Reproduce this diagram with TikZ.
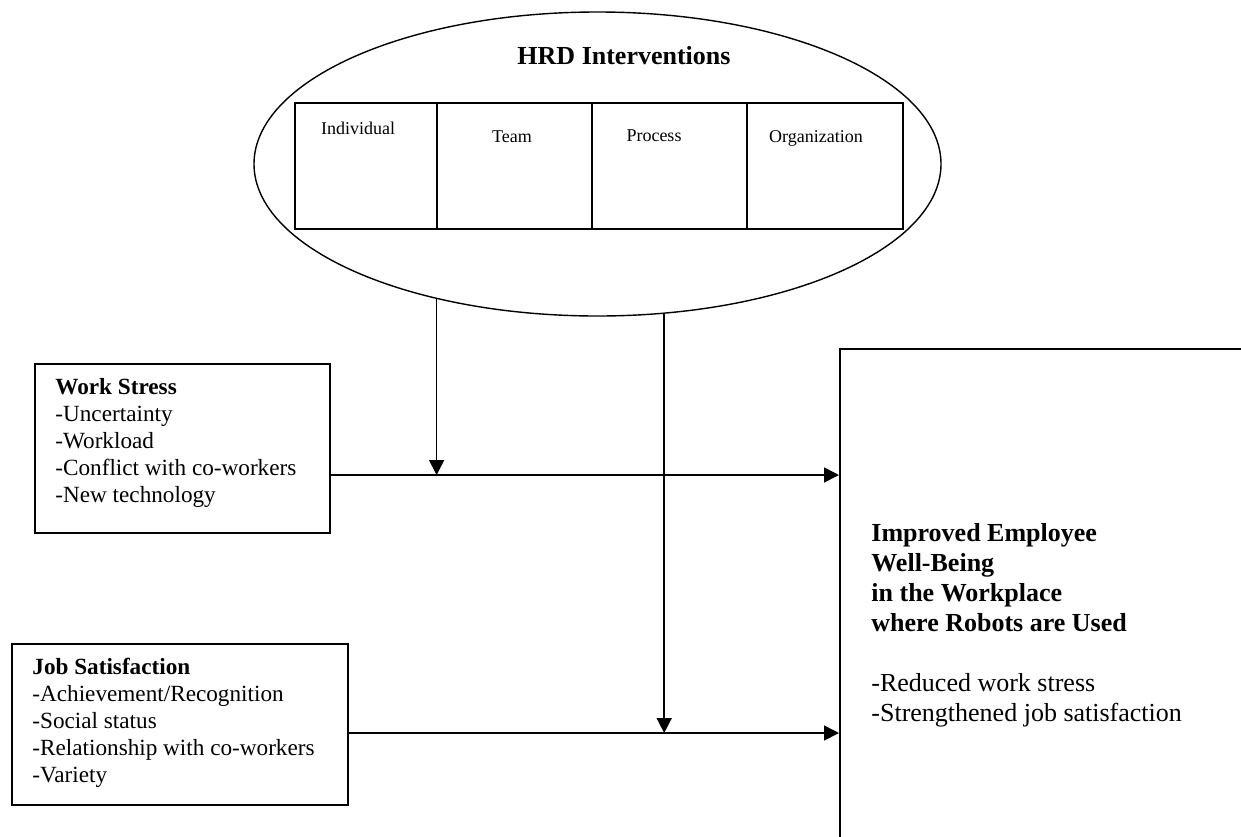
\documentclass[tikz,border=0pt]{standalone}
\usepackage{fontspec}
\setmainfont{Liberation Serif}
\usetikzlibrary{shapes.geometric,arrows.meta}
\begin{document}
\begin{tikzpicture}[x=0.5pt,y=-0.5pt,
  box/.style={draw, line width=0.8pt, rectangle, inner sep=0pt, anchor=north west},
  cell/.style={draw, line width=0.8pt, rectangle, inner sep=0pt, anchor=north west, minimum height=63pt},
  lbl/.style={font=\fontsize{9}{11}\selectfont, anchor=base, inner sep=0pt},
  txt/.style={anchor=base west, inner sep=0pt, align=left},
  arr/.style={line width=0.8pt, -{Triangle[length=7.5pt,width=7.5pt]}}]
\useasboundingbox (0,0) rectangle (1241,836);
\clip (0,0) rectangle (1241,836);
% HRD ellipse
\node[ellipse, draw, line width=0.7pt, minimum width=343.5pt, minimum height=152pt, inner sep=0pt] (hrd) at (597.5,164) {};
\node[anchor=base, inner sep=0pt, font=\fontsize{13}{15}\selectfont\bfseries] (title) at (624,64) {HRD Interventions};
% table cells
\node[cell, minimum width=71pt] (c1) at (294,102) {};
\node[cell, minimum width=77.5pt] (c2) at (436,102) {};
\node[cell, minimum width=77.5pt] (c3) at (591,102) {};
\node[cell, minimum width=78pt] (c4) at (746,102) {};
\node[lbl] (l1) at (358,134) {Individual};
\node[lbl] (l2) at (512,142) {Team};
\node[lbl] (l3) at (654,141) {Process};
\node[lbl] (l4) at (816,142) {Organization};
% work stress
\node[box, minimum width=147.5pt, minimum height=84.5pt] (ws) at (34,363) {};
\node[txt, font=\fontsize{11.6}{13.5}\selectfont] (wst) at (55,394) {\begin{tabular}[t]{@{}l@{}}\textbf{Work Stress}\\-Uncertainty\\-Workload\\-Conflict with co-workers\\-New technology\end{tabular}};
% job satisfaction
\node[box, minimum width=168pt, minimum height=80.5pt] (js) at (11,643) {};
\node[txt, font=\fontsize{11.6}{13.5}\selectfont] (jst) at (32,674) {\begin{tabular}[t]{@{}l@{}}\textbf{Job Satisfaction}\\-Achievement/Recognition\\-Social status\\-Relationship with co-workers\\-Variety\end{tabular}};
% well-being
\node[box, minimum width=230.5pt, minimum height=276pt] (wb) at (839,348) {};
\node[txt, font=\fontsize{13}{15}\selectfont] (wbt) at (871,541) {\begin{tabular}[t]{@{}l@{}}\textbf{Improved Employee}\\\textbf{Well-Being}\\\textbf{in the Workplace}\\\textbf{where Robots are Used}\\[15pt]-Reduced work stress\\-Strengthened job satisfaction\end{tabular}};
% connectors
\coordinate (j1) at (436,475);
\coordinate (j2) at (664,733);
\draw[arr] (hrd.220) -- (hrd.220 |- j1);
\draw[arr] (ws.east |- j1) -- (wb.west |- j1);
\draw[arr] (hrd.294) -- (hrd.294 |- j2);
\draw[arr] (js.east |- j2) -- (wb.west |- j2);
\end{tikzpicture}
\end{document}
